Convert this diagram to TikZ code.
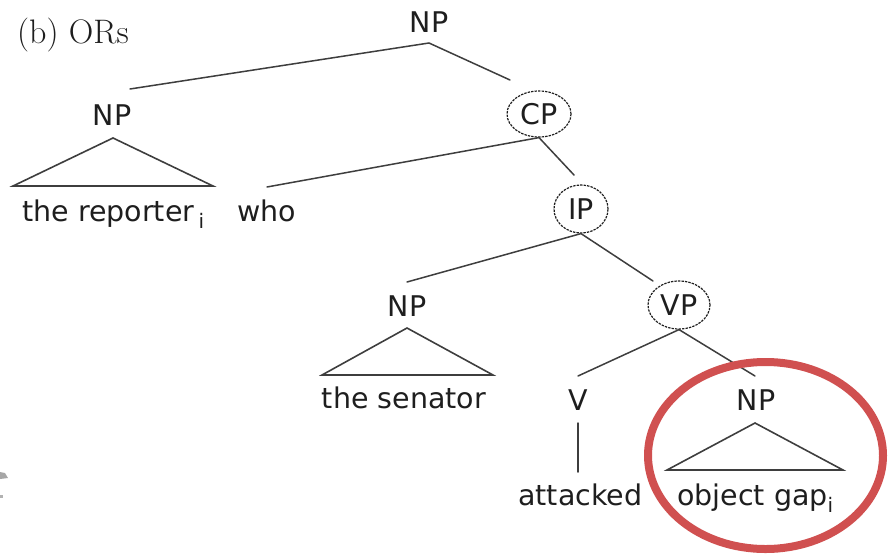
\documentclass[tikz,border=0pt]{standalone}
\usepackage{fontspec}
\newfontfamily\treefont{DejaVu Sans}
\usetikzlibrary{shapes.geometric}
\definecolor{ink}{RGB}{30,30,30}
\definecolor{branch}{RGB}{62,62,62}
\definecolor{marker}{RGB}{208,80,80}
\newcommand{\idx}{\raisebox{-0.25em}{\fontsize{20}{20}\selectfont i}}
\tikzset{
  treetext/.style={font=\treefont\fontsize{28.5}{30}\selectfont, text=ink, inner sep=0pt},
  lbl/.style={treetext, anchor=base},
  word/.style={treetext, anchor=base west},
  ring/.style={treetext, draw=ink, ellipse, dash pattern=on 2.4pt off 1.1pt,
               line width=1.2pt, inner sep=0pt},
  branchline/.style={draw=branch, line width=1.5pt, line cap=round},
  roof/.style={draw=branch, line width=1.6pt, line join=miter},
  highlight/.style={draw=marker, line width=8pt}
}
\begin{document}
\begin{tikzpicture}[x=1pt,y=-1pt]
\useasboundingbox (0,0) rectangle (893,557);

% heading
\node[font=\fontsize{34}{36}\selectfont, anchor=base west, inner sep=0pt, text=ink]
  (title) at (17,43) {(b) ORs};

% category labels
\node[lbl] (np0) at (429,32) {NP};
\node[lbl] (np1) at (112,125) {NP};
\node[ring, minimum width=64pt, minimum height=46pt] (cp) at (539,114) {CP};
\node[ring, minimum width=54pt, minimum height=48pt] (ip) at (581,209) {IP};
\node[lbl] (np2) at (407,316) {NP};
\node[ring, minimum width=62pt, minimum height=48pt] (vp) at (679,305) {VP};
\node[lbl] (v) at (578,410) {V};
\node[lbl] (np3) at (756,410) {NP};

% words
\node[word] (reporter) at (22,221) {the reporter\hspace{0.15em}\idx};
\node[word] (who) at (237,221) {who};
\node[lbl] (senator) at (404,408) {the senator};
\node[word] (attacked) at (518,505) {attacked};
\node[word] (gap) at (677,505) {object gap\idx};

% branch end points
\coordinate (np0-foot) at (429,43);
\coordinate (np1-head) at (130,89);
\coordinate (cp-head) at (510,80);
\coordinate (who-head) at (267,187);
\coordinate (ip-head) at (574,175);
\coordinate (np2-head) at (407,282);
\coordinate (vp-head) at (653,281);
\coordinate (v-head) at (578,376);
\coordinate (np3-head) at (755,376);
\coordinate (v-foot) at (578,423);
\coordinate (attacked-head) at (578,472);

% branches
\draw[branchline] (np1-head) -- (np0-foot) -- (cp-head);
\draw[branchline] (who-head) -- (cp.south) -- (ip-head);
\draw[branchline] (np2-head) -- (ip.south) -- (vp-head);
\draw[branchline] (v-head) -- (vp.south) -- (np3-head);
\draw[branchline] (v-foot) -- (attacked-head);

% roofs over unanalysed phrases
\coordinate (r1-top) at (113,138);
\coordinate (r1-left) at (13,186);
\coordinate (r1-right) at (213,186);
\draw[roof] (r1-top) -- (r1-left) -- (r1-right) -- cycle;
\coordinate (r2-top) at (407,328);
\coordinate (r2-left) at (322,375);
\coordinate (r2-right) at (493,375);
\draw[roof] (r2-top) -- (r2-left) -- (r2-right) -- cycle;
\coordinate (r3-top) at (755,423);
\coordinate (r3-left) at (667,470);
\coordinate (r3-right) at (843,470);
\draw[roof] (r3-top) -- (r3-left) -- (r3-right) -- cycle;

% circled object gap
\draw[highlight] (765.5,455.5) ellipse [x radius=117.5pt, y radius=93.5pt];

% stray marks at the left edge
\fill[gray!70] (0,472) -- (5,473) -- (8,478) -- (0,479) -- cycle;
\fill[gray!60] (0,495) rectangle (3,498);
\end{tikzpicture}
\end{document}
